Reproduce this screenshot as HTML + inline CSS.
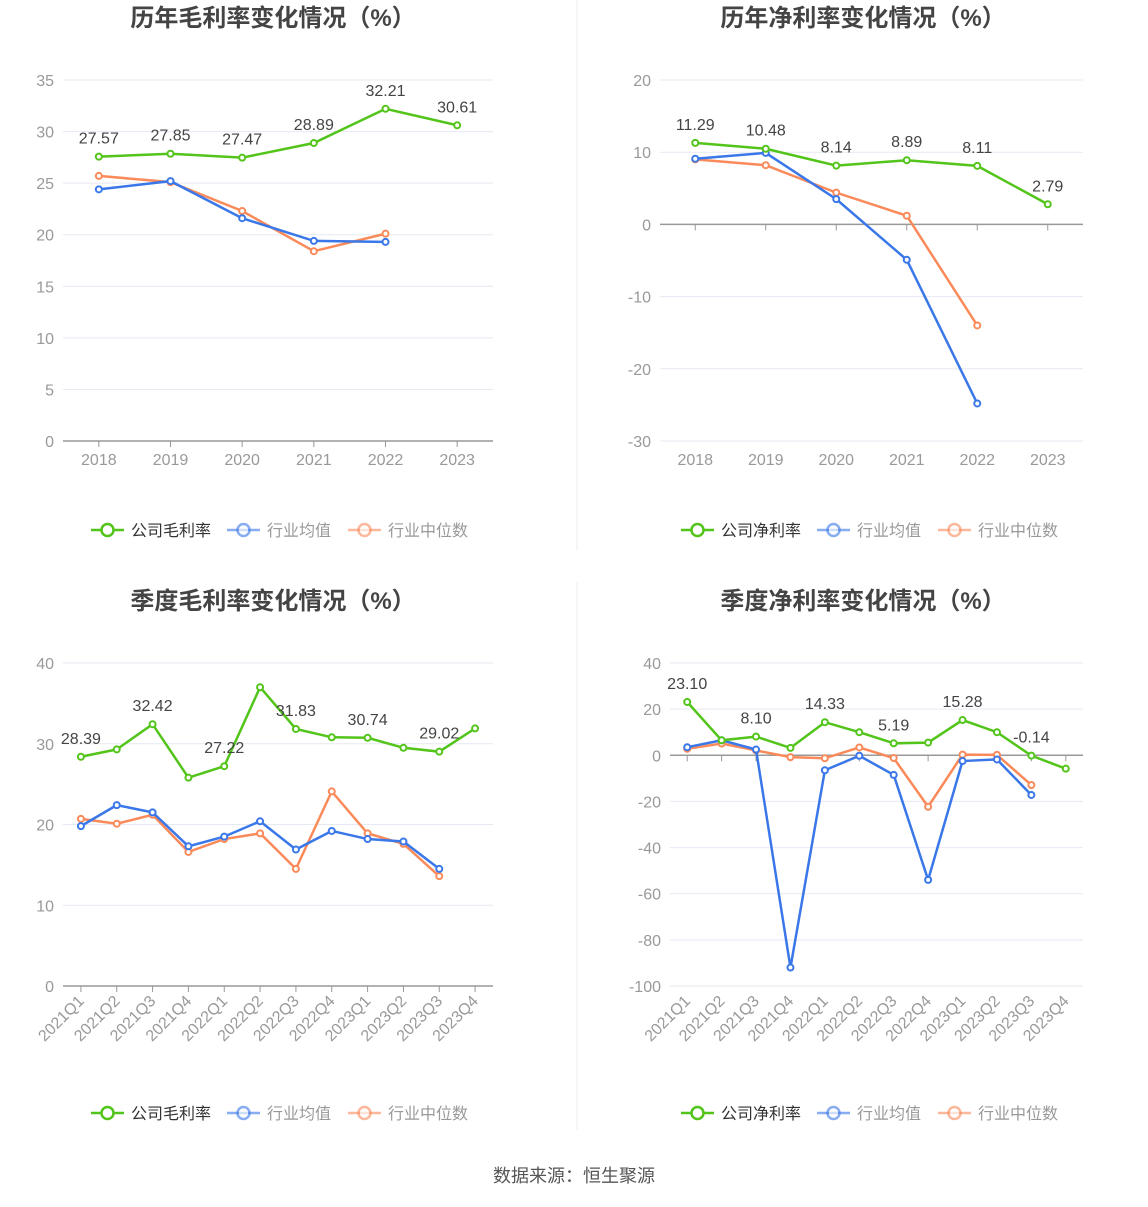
<!DOCTYPE html>
<html><head><meta charset="utf-8"><style>
body{margin:0;background:#fff;font-family:"Liberation Sans","Noto Sans CJK SC",sans-serif;}
svg text{font-family:"Liberation Sans","Noto Sans CJK SC",sans-serif;}
</style></head><body>
<svg id="root" width="1148" height="1202" xmlns="http://www.w3.org/2000/svg">
<line x1="577" y1="0" x2="577" y2="550" stroke="#eee"/>
<line x1="577" y1="582" x2="577" y2="1130" stroke="#eee"/>
<text x="574" y="1182" text-anchor="middle" font-size="18" fill="#555">数据来源：恒生聚源</text>
</svg>
<script>
const yearCats=["2018","2019","2020","2021","2022","2023"];
const qCats=["2021Q1","2021Q2","2021Q3","2021Q4","2022Q1","2022Q2","2022Q3","2022Q4","2023Q1","2023Q2","2023Q3","2023Q4"];
const grossCompany=[27.57,27.85,27.47,28.89,32.21,30.61];
const grossAvg=[24.4,25.2,21.6,19.4,19.3];
const grossMedian=[25.7,25.1,22.3,18.4,20.1];
const netCompany=[11.29,10.48,8.14,8.89,8.11,2.79];
const netAvg=[9.1,9.9,3.5,-4.9,-24.8];
const netMedian=[9.0,8.2,4.4,1.2,-14.0];
const qGrossCompany=[28.39,29.3,32.42,25.8,27.22,37.0,31.83,30.8,30.74,29.5,29.02,31.9];
const qGrossAvg=[19.8,22.4,21.5,17.3,18.5,20.4,16.9,19.2,18.2,17.9,14.5];
const qGrossMedian=[20.7,20.1,21.2,16.6,18.2,18.9,14.5,24.1,18.9,17.6,13.6];
const qNetCompany=[23.10,6.5,8.10,3.2,14.33,10.0,5.19,5.5,15.28,10.0,-0.14,-5.8];
const qNetAvg=[3.5,6.5,2.5,-92,-6.5,-0.2,-8.5,-54,-2.5,-1.8,-17.2];
const qNetMedian=[2.8,5.1,2.1,-0.8,-1.3,3.4,-1.2,-22.3,0.3,0.2,-12.9];
const ticks1=[0,5,10,15,20,25,30,35];
const ticks2=[-30,-20,-10,0,10,20];
const ticks3=[0,10,20,30,40];
const ticks4=[-100,-80,-60,-40,-20,0,20,40];

const NS="http://www.w3.org/2000/svg";
const root=document.getElementById('root');
function mk(tag,attrs,parent){const e=document.createElementNS(NS,tag);for(const k in attrs)e.setAttribute(k,attrs[k]);(parent||root).appendChild(e);return e;}
const GREEN="#52c41a",BLUE="#3a77e8",ORANGE="#fa8a5a";

function chart(o){
  const g=mk('g',{});
  
  
  const t=mk('text',{x:o.cx,y:o.titleY,'text-anchor':'middle','font-size':24,'font-weight':'bold',fill:'#444'},g);
  t.textContent=o.title;
  
  
  const ymin=o.ticks[0],ymax=o.ticks[o.ticks.length-1];
  const Y=v=>o.yB+(v-ymin)/(ymax-ymin)*(o.yT-o.yB);
  const n=o.cats.length,step=(o.x1-o.x0)/n;
  const X=i=>o.x0+step*(i+0.5);
  o.ticks.forEach(v=>{
    const l=mk('line',{x1:o.x0,x2:o.x1,y1:Y(v),y2:Y(v),stroke:'#e6e9f2'},g);
    
    
    const tx=mk('text',{x:o.x0-9,y:Y(v)+6,'text-anchor':'end','font-size':16,fill:'#999'},g);
    tx.textContent=v;
    
    
  });
  const ay=Y(Math.max(ymin,0));
  const ax=mk('line',{x1:o.x0,x2:o.x1,y1:ay,y2:ay,stroke:'#999','stroke-width':1.5},g);
  
  
  o.cats.forEach((c,i)=>{
    const tk=mk('line',{x1:X(i),x2:X(i),y1:ay,y2:ay+6,stroke:'#999'},g);
    
    
    let tx;
    if(o.rot){
      tx=mk('text',{x:X(i)+4,y:Y(ymin)+16,'text-anchor':'end','font-size':16,fill:'#999',transform:`rotate(-45 ${X(i)+4} ${Y(ymin)+16})`},g);
    }else{
      tx=mk('text',{x:X(i),y:Y(ymin)+24,'text-anchor':'middle','font-size':16,fill:'#999'},g);
    }
    tx.textContent=c;
    
    
  });
  const series=[[o.med,ORANGE,'industry-median-line'],[o.avg,BLUE,'industry-average-line'],[o.comp,GREEN,'company-line']];
  series.forEach(([d,col,nm])=>{
    const p=mk('polyline',{points:d.map((v,i)=>X(i)+','+Y(v)).join(' '),fill:'none',stroke:col,'stroke-width':2.5},g);
    
    
    d.forEach((v,i)=>{
      const c=mk('circle',{cx:X(i),cy:Y(v),r:3,fill:'#fff',stroke:col,'stroke-width':2},g);
      
      
    });
  });
  o.comp.forEach((v,i)=>{
    if(i%o.lblEvery!==0)return;
    const tx=mk('text',{x:X(i),y:Y(v)-13,'text-anchor':'middle','font-size':16,fill:'#444'},g);
    tx.textContent=v.toFixed(2);
    
    
  });
  const lg=mk('g',{},g);
  
  
  const items=[[o.compName,GREEN,'#333'],['行业均值',BLUE,'#999'],['行业中位数',ORANGE,'#999']];
  const starts=[o.lx,o.lx+136,o.lx+257];
  items.forEach(([txt,col,tc],k)=>{
    const e=mk('g',{},lg);
    
    
    const x=starts[k];
    mk('line',{x1:x,x2:x+33,y1:o.ly,y2:o.ly,stroke:col,'stroke-width':2.5,opacity:k?0.6:1},e);
    mk('circle',{cx:x+16.5,cy:o.ly,r:6,fill:'#fff',stroke:col,'stroke-width':2.5,opacity:k?0.6:1},e);
    const tx=mk('text',{x:x+40,y:o.ly+6,'font-size':16,fill:tc},e);
    tx.textContent=txt;
  });
}
chart({name:'annual-gross-margin-chart',title:'历年毛利率变化情况（%）',cx:273,titleY:26,x0:63,x1:493,yB:441,yT:80,ticks:ticks1,cats:yearCats,comp:grossCompany,avg:grossAvg,med:grossMedian,lblEvery:1,compName:'公司毛利率',lx:91,ly:530});
chart({name:'annual-net-margin-chart',title:'历年净利率变化情况（%）',cx:863,titleY:26,x0:660,x1:1083,yB:441,yT:80,ticks:ticks2,cats:yearCats,comp:netCompany,avg:netAvg,med:netMedian,lblEvery:1,compName:'公司净利率',lx:681,ly:530});
chart({name:'quarterly-gross-margin-chart',title:'季度毛利率变化情况（%）',cx:273,titleY:609,x0:63,x1:493,yB:986,yT:663,ticks:ticks3,cats:qCats,comp:qGrossCompany,avg:qGrossAvg,med:qGrossMedian,lblEvery:2,compName:'公司毛利率',lx:91,ly:1113,rot:true});
chart({name:'quarterly-net-margin-chart',title:'季度净利率变化情况（%）',cx:863,titleY:609,x0:670,x1:1083,yB:986,yT:663,ticks:ticks4,cats:qCats,comp:qNetCompany,avg:qNetAvg,med:qNetMedian,lblEvery:2,compName:'公司净利率',lx:681,ly:1113,rot:true});
</script>
</body></html>
